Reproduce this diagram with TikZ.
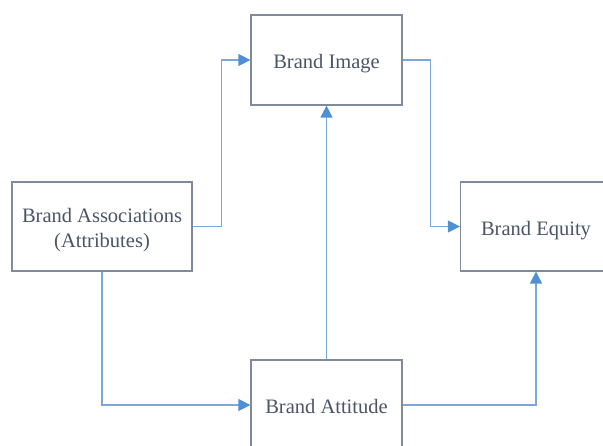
\documentclass[tikz,border=0pt]{standalone}
\usepackage{fontspec}
\setmainfont{Liberation Serif}
\usetikzlibrary{arrows.meta}
\definecolor{boxline}{HTML}{7F8A9C}
\definecolor{linkline}{HTML}{7DA7D9}
\definecolor{tipfill}{HTML}{4F8FD6}
\definecolor{txt}{HTML}{4A5568}
% centred text block, set a little below the middle of its box
\newcommand{\boxtext}[1]{\raisebox{-9pt}[0pt][0pt]{\begin{tabular}{@{}c@{}}#1\end{tabular}}}
\tikzset{
  box/.style={draw=boxline, line width=1.2pt, fill=white, minimum width=151pt,
    minimum height=90pt, inner sep=0pt, align=center, text=txt,
    font=\fontsize{20.5}{25}\selectfont},
  link/.style={draw=linkline, line width=1.2pt,
    -{Triangle[length=12pt,width=12pt,fill=tipfill,color=tipfill]}}
}
\begin{document}
\begin{tikzpicture}[x=1pt,y=-1pt]
  \useasboundingbox (0,0) rectangle (603,446);
  \clip (0,0) rectangle (603,446);
  % the four blocks
  \node[box] (img)   at (326.5,60)  {\boxtext{Brand Image}};
  \node[box, minimum width=180pt, minimum height=89pt] (assoc) at (102,226.5)
        {\boxtext{Brand Associations\\(Attributes)}};
  \node[box, minimum height=89pt] (eq)  at (536,226.5) {\boxtext{Brand Equity}};
  \node[box] (att)   at (326.5,405) {\boxtext{Brand Attitude}};
  % connectors
  \draw[link] (assoc.east) -- ++(29,0) |- (img.west);
  \draw[link] (img.east) -- ++(28,0) |- (eq.west);
  \draw[link] (att.north) -- (img.south);
  \draw[link] (assoc.south) |- (att.west);
  \draw[link] (att.east) -| (eq.south);
\end{tikzpicture}
\end{document}
